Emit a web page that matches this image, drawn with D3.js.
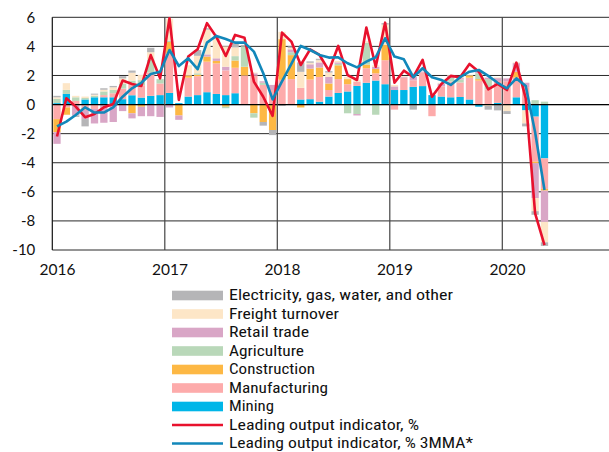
<!DOCTYPE html>
<html><head><meta charset="utf-8">
<script src="https://cdn.jsdelivr.net/npm/d3@7/dist/d3.min.js"></script>
<style>
html,body{margin:0;padding:0;background:#fff;}
svg{display:block;}
text{font-family:"Liberation Sans Narrow","Roboto Condensed",Roboto,Lato,sans-serif;fill:#111;}
</style></head>
<body>
<svg id="chart" width="609" height="452"></svg>
<script>
const months = [
"2016-01","2016-02","2016-03","2016-04","2016-05","2016-06","2016-07","2016-08","2016-09","2016-10","2016-11","2016-12",
"2017-01","2017-02","2017-03","2017-04","2017-05","2017-06","2017-07","2017-08","2017-09","2017-10","2017-11","2017-12",
"2018-01","2018-02","2018-03","2018-04","2018-05","2018-06","2018-07","2018-08","2018-09","2018-10","2018-11","2018-12",
"2019-01","2019-02","2019-03","2019-04","2019-05","2019-06","2019-07","2019-08","2019-09","2019-10","2019-11","2019-12",
"2020-01","2020-02","2020-03","2020-04","2020-05"];
const yearLabels = ["2016","2017","2018","2019","2020"];
const yTicks = [6,4,2,0,-2,-4,-6,-8,-10];

const mining = [0.1,0.73,0,0.35,0.5,0.5,0.5,0.37,0.64,0.48,0.6,0.65,
 0.8,0.1,0.55,0.65,0.85,0.73,0.65,0.78,0,0,0,0,
 0,0,0.35,0.37,0.2,0.55,0.8,0.9,1.28,1.5,1.65,1.4,
 1.0,1.0,1.22,1.27,0.65,0.55,0.5,0.52,0.35,-0.15,0,0.12,
 0,0.5,-0.4,-0.83,-3.7];
const manufacturing = [-1.0,-0.2,0.25,-0.25,-0.3,0.15,0.28,0.73,0.8,0.85,1.6,0.8,
 2.7,0,1.3,1.3,2.1,2.1,1.7,1.75,2.0,2.0,1.35,1.0,
 1.7,1.75,0.8,1.35,1.7,0.45,0.95,0.5,0.3,1.0,0.5,1.65,
 -0.35,0.85,0.45,0.95,-0.8,0.7,1.08,1.0,1.5,1.65,1.05,1.5,
 1.6,1.35,1.2,-3.1,-2.1];
const construction = [-0.9,-0.5,0,-0.1,0,0,0,0,-0.6,-0.15,0,-0.05,
 0.8,-0.75,0.15,0.1,0.35,0.17,-0.15,0.5,0.6,-0.6,-1.2,-1.75,
 2.8,1.65,-0.2,0.75,0.65,0.45,0.95,0.35,0,0.25,0.3,1.05,
 0,0,0,0,0,0,0,0,0.15,0.1,0,0,
 0,0.4,0,-0.1,-0.12];
const agriculture = [0.3,0.28,0.25,0.1,0.1,0.25,0.23,0.35,0.2,0.35,0.9,0.3,
 0.1,0,0,0.1,0,0,-0.1,0.3,1.4,-0.3,0.15,0,
 0,0.2,0,0,0,0,0.1,-0.6,-0.65,1.5,-0.7,0,
 0,0,0,0,0,0,0.25,0.2,0,0.4,0.7,0,
 0,0,0,0.3,0.2];
const retail = [-0.8,0,-0.75,-0.65,-1.0,-1.25,-1.2,-0.45,-0.35,-0.65,-0.8,-0.8,
 -0.2,-0.3,0,0,0.15,0.18,0.25,0,0,0.15,0.1,0.35,
 0,0.2,0,0.3,0.35,0.45,0.1,0,-0.1,0,0.15,0,
 0.25,0.05,0.25,0.05,0,0.2,0.15,0.1,0,0.1,0.1,0.2,
 0.2,0.6,0.3,-2.4,-2.15];
const freight = [0.1,0.46,0.1,0.1,0.08,0.12,0.18,0.35,0.55,0.35,0.5,0,
 1.5,0,0.7,1.2,1.7,1.5,1.4,0.6,0,0.05,0,0,
 0.5,0.1,1.1,0.1,0.15,0.3,0.1,0.15,0.1,0.1,0.1,1.4,
 0.1,0.05,0.05,0,0,0.05,0.05,0.1,0.05,0,-0.1,0.05,
 -0.45,0.05,-0.9,-0.9,-1.4];
const electricity = [0.1,0,-0.1,-0.5,0.07,0.1,0.09,0.15,0.15,0,0.3,0,
 0,0,0,0.4,0.1,0,0,0.3,0.1,0,-0.25,-0.35,
 -0.1,0.1,0.65,0.1,0.1,0.1,0,0,0,0,0,0.1,
 0,0,-0.35,0,0,0,0,0,0,0,-0.25,-0.4,
 -0.2,0,-0.2,-0.25,-0.25];
const indicator = [-2.2,0.43,-0.14,-0.87,-0.65,-0.19,0.04,1.65,1.42,1.28,3.4,1.8,
 5.93,0.32,3.3,3.8,5.6,4.65,3.34,4.79,4.6,1.58,0.54,-0.78,
 4.95,4.33,2.72,3.8,3.41,2.33,4.03,2.03,1.69,5.3,2.6,5.63,
 1.5,2.33,1.88,3.07,0.54,1.42,1.97,1.88,2.79,2.26,1.05,1.42,
 1.0,2.88,0.43,-7.48,-9.66];
const indicator3mma = [-1.5,-1.17,-0.72,-0.19,-0.55,-0.55,-0.19,0.54,1.12,1.5,2.1,2.26,
 3.75,2.65,3.18,2.43,4.26,4.72,4.51,4.26,4.26,3.64,2.15,0.36,
 1.6,2.8,4.03,3.75,3.41,3.23,3.25,2.84,2.56,2.95,3.25,4.56,
 3.3,3.11,1.88,2.5,1.88,1.69,1.35,1.88,2.26,2.38,1.97,1.5,
 1.12,1.8,1.28,-1.9,-5.87];

const seriesKeys = ["mining","manufacturing","construction","agriculture","retail","freight","electricity"];
const seriesNames = {
  electricity:"Electricity, gas, water, and other",
  freight:"Freight turnover",
  retail:"Retail trade",
  agriculture:"Agriculture",
  construction:"Construction",
  manufacturing:"Manufacturing",
  mining:"Mining"
};
const colors = {
  mining:"#00b6e8", manufacturing:"#fdabab", construction:"#fdb844",
  agriculture:"#b9d8b9", retail:"#d9a6c6", freight:"#fde6c7", electricity:"#b5b5b7"
};
const lineColors = {indicator:"#e8112d", mma:"#1287ba"};

const seriesData = {mining, manufacturing, construction, agriculture, retail, freight, electricity};
const rows = months.map((m,i)=>{
  const r = {month:m, idx:i};
  seriesKeys.forEach(k=>r[k]=seriesData[k][i]);
  return r;
});

const svg = d3.select("#chart");
const W = 609;
const x = d3.scaleLinear().domain([0,60]).range([52.3,614.8]);
const y = d3.scaleLinear().domain([-10,6]).range([250,17.3]);

// gridlines
svg.append("g").selectAll("line").data(yTicks).join("line")
  .attr("x1",x(0)).attr("x2",W)
  .attr("y1",d=>y(d)).attr("y2",d=>y(d))
  .attr("stroke","#2a2a2a").attr("stroke-width",1);

// bars
const stacked = d3.stack().keys(seriesKeys).offset(d3.stackOffsetDiverging)(rows);
const barG = svg.append("g");
stacked.forEach(s=>{
  barG.append("g").attr("fill",colors[s.key]).selectAll("rect").data(s).join("rect")
    .attr("x",d=>x(d.data.idx+0.11))
    .attr("width",d=>x(d.data.idx+0.89)-x(d.data.idx+0.11))
    .attr("y",d=>y(Math.max(d[0],d[1])))
    .attr("height",d=>Math.abs(y(d[0])-y(d[1])));
});

// zero line
svg.append("line").attr("x1",x(0)).attr("x2",W).attr("y1",y(0)).attr("y2",y(0))
  .attr("stroke","#000").attr("stroke-width",1.2);

// year lines
svg.append("g").selectAll("line").data([12,24,36,48]).join("line")
  .attr("x1",d=>x(d)).attr("x2",d=>x(d)).attr("y1",y(6)).attr("y2",y(-10))
  .attr("stroke","#444").attr("stroke-width",1.2);
// left border
svg.append("line").attr("x1",x(0)).attr("x2",x(0)).attr("y1",y(6)).attr("y2",y(-10))
  .attr("stroke","#111").attr("stroke-width",1.2);

// lines
const lineGen = d3.line().x((d,i)=>x(i+0.5)).y(d=>y(d)).curve(d3.curveLinear);
svg.append("path").datum(indicator).attr("d",lineGen)
  .attr("fill","none").attr("stroke",lineColors.indicator).attr("stroke-width",2.6).attr("stroke-linejoin","round");
svg.append("path").datum(indicator3mma).attr("d",lineGen)
  .attr("fill","none").attr("stroke",lineColors.mma).attr("stroke-width",2.6).attr("stroke-linejoin","round");

// axes
const yAxis = d3.axisLeft(y).tickValues(yTicks).tickSize(0).tickPadding(17).tickFormat(d=>d);
const yg = svg.append("g").attr("transform",`translate(${x(0)},0)`).call(yAxis);
yg.select(".domain").remove();
yg.selectAll("text").attr("font-size",15).style("font-family","Lato, Roboto, sans-serif").attr("fill","#111");

const xAxis = d3.axisBottom(x).tickValues([0.5,12.5,24.5,36.5,48.5]).tickSize(0).tickPadding(0)
  .tickFormat((d,i)=>yearLabels[i]);
const xg = svg.append("g").attr("transform",`translate(0,${y(-10)+14})`).call(xAxis);
xg.select(".domain").remove();
xg.selectAll("text").attr("font-size",15.5).style("font-family","Lato, Roboto, sans-serif").attr("fill","#111");

// legend
const legendItems = [
  {key:"electricity",type:"rect",w:224},
  {key:"freight",type:"rect",w:110},
  {key:"retail",type:"rect",w:80},
  {key:"agriculture",type:"rect",w:75},
  {key:"construction",type:"rect",w:86},
  {key:"manufacturing",type:"rect",w:99},
  {key:"mining",type:"rect",w:45},
  {key:"indicator",type:"line",label:"Leading output indicator, %",w:190},
  {key:"mma",type:"line",label:"Leading output indicator, % 3MMA*",w:244}
];
const lg = svg.append("g");
legendItems.forEach((it,i)=>{
  const cy = 295.5 + i*18.5;
  if(it.type==="rect"){
    lg.append("rect").attr("x",172).attr("y",cy-4.8).attr("width",51).attr("height",9.6).attr("fill",colors[it.key]);
  } else {
    lg.append("line").attr("x1",172).attr("x2",223).attr("y1",cy).attr("y2",cy)
      .attr("stroke",lineColors[it.key]).attr("stroke-width",2.6);
  }
  lg.append("text").attr("x",229).attr("y",cy+4.8).attr("font-size",15.5)
    .attr("textLength",it.w).attr("lengthAdjust","spacingAndGlyphs")
    .text(it.label || seriesNames[it.key]);
});
</script>
</body></html>
